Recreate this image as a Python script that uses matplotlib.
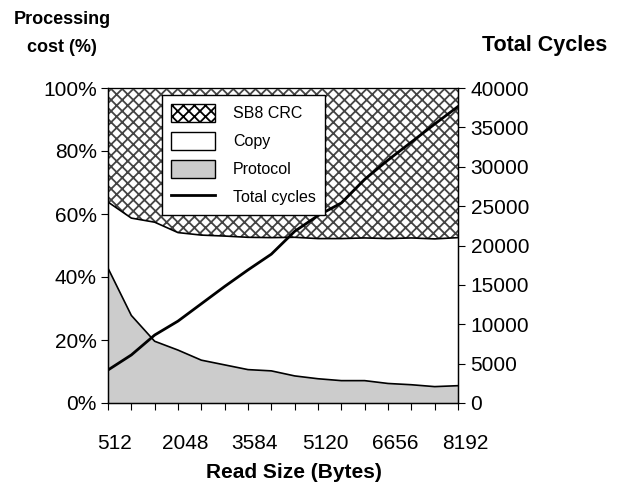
import numpy as np
import matplotlib
matplotlib.use("Agg")
import matplotlib.pyplot as plt
import matplotlib.transforms as mtransforms
from matplotlib.patches import Patch
from matplotlib.lines import Line2D

plt.rcParams['font.family'] = ['Liberation Sans', 'DejaVu Sans']
plt.rcParams['hatch.linewidth'] = 1.3
plt.rcParams['hatch.color'] = '#444444'

# data
read_size = [512, 1024, 1536, 2048, 2560, 3072, 3584, 4096,
             4608, 5120, 5632, 6144, 6656, 7168, 7680, 8192]
protocol = [42.8, 27.8, 19.6, 16.8, 13.6, 12.1, 10.6, 10.2,
            8.6, 7.7, 7.1, 7.1, 6.2, 5.8, 5.2, 5.5]
copy = [21.0, 30.9, 37.8, 37.3, 39.7, 40.9, 42.0, 42.3,
        44.0, 44.5, 45.1, 45.3, 46.0, 46.6, 46.9, 47.0]
sb8_crc = [36.2, 41.3, 42.6, 45.9, 46.7, 47.0, 47.4, 47.5,
           47.4, 47.8, 47.8, 47.6, 47.8, 47.6, 47.9, 47.5]
total_cycles = [4190, 6100, 8630, 10400, 12600, 14800, 16900, 18900,
                21800, 23800, 25400, 28400, 30850, 33130, 35420, 37650]
x_ticklabels = [512, 2048, 3584, 5120, 6656, 8192]

x = np.array(read_size)
p = np.array(protocol)
pc = p + np.array(copy)
top = pc + np.array(sb8_crc)

fig = plt.figure(figsize=(6.2, 4.87), dpi=100)
ax = fig.add_axes([108/620, 1-403/487, 350/620, 315/487])

ax.fill_between(x, 0, p, facecolor='#cccccc', edgecolor='none')
ax.fill_between(x, p, pc, facecolor='white', edgecolor='none')
ax.fill_between(x, pc, top, facecolor='white', edgecolor='#444444',
                hatch='xxx', linewidth=0)
ax.plot(x, p, color='black', lw=1.2)
ax.plot(x, pc, color='black', lw=1.2)

ax.set_xlim(512, 8192)
ax.set_ylim(0, 100)
ax.set_yticks(range(0, 101, 20))
ax.set_yticklabels([f'{v}%' for v in range(0, 101, 20)])
ax.set_xticks(read_size)
ax.set_xticklabels([str(v) if v in x_ticklabels else '' for v in read_size])
ax.tick_params(axis='x', direction='out', length=5, pad=17, labelsize=15)
ax.tick_params(axis='y', direction='out', length=5, pad=3, labelsize=15)
for s in ax.spines.values():
    s.set_linewidth(1.0)
ax.spines['top'].set_color('#777777')

ax2 = ax.twinx()
ax2.plot(x, total_cycles, color='black', lw=2.0)
ax2.set_ylim(0, 40000)
ax2.set_yticks(range(0, 40001, 5000))
ax2.tick_params(axis='y', direction='out', length=5, pad=4, labelsize=15)

# labels sit a little right of their ticks, as in the original
offset = mtransforms.ScaledTranslation(7/100, 0, fig.dpi_scale_trans)
for lab in ax.get_xticklabels():
    lab.set_transform(lab.get_transform() + offset)

handles = [Patch(facecolor='white', edgecolor='black', hatch='xxx', label='SB8 CRC'),
           Patch(facecolor='white', edgecolor='black', label='Copy'),
           Patch(facecolor='#cccccc', edgecolor='black', label='Protocol'),
           Line2D([0], [0], color='black', lw=2.0, label='Total cycles')]
leg = ax2.legend(handles=handles, loc='upper left', bbox_to_anchor=(0.154, 0.978),
                 borderaxespad=0, fontsize=11.5, handlelength=2.8, handleheight=1.4,
                 labelspacing=0.6, handletextpad=1.1, borderpad=0.55,
                 fancybox=False, framealpha=1, edgecolor='black')
leg.get_frame().set_linewidth(1.0)

fig.text(62/620, 1-20/487, 'Processing', ha='center', va='center',
         fontsize=13, fontweight='bold')
fig.text(62/620, 1-48/487, 'cost (%)', ha='center', va='center',
         fontsize=13, fontweight='bold')
fig.text(545/620, 1-45/487, 'Total Cycles', ha='center', va='center',
         fontsize=15.5, fontweight='bold')
fig.text(294/620, 1-473/487, 'Read Size (Bytes)', ha='center', va='center',
         fontsize=15, fontweight='bold')

fig.savefig('out.png', dpi=100)
